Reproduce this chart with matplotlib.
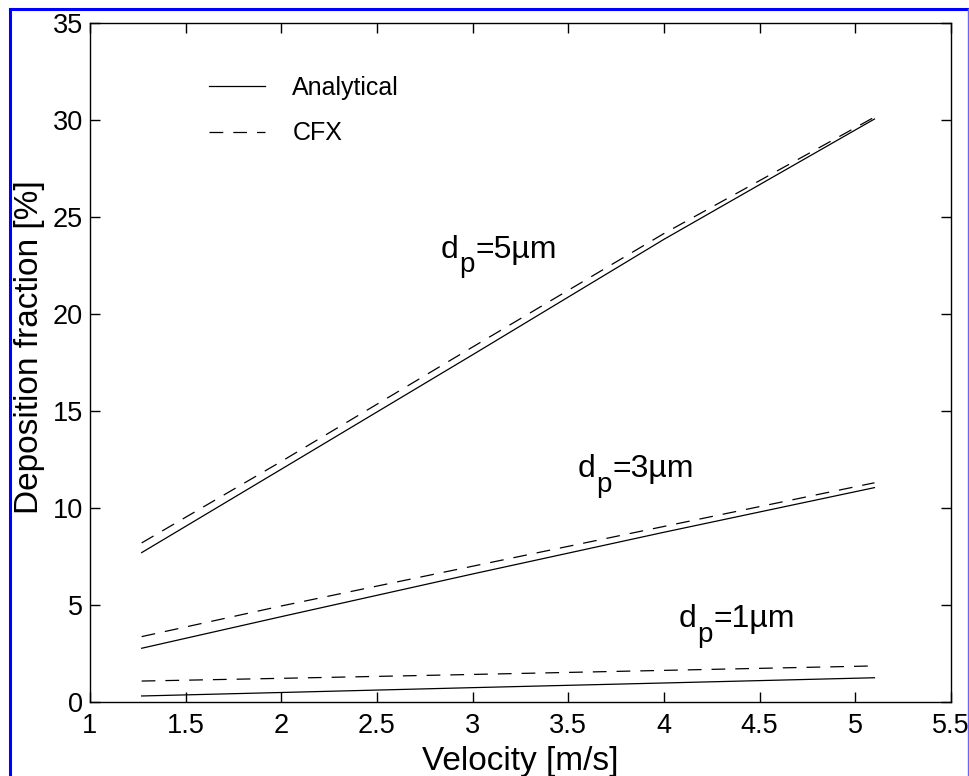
import numpy as np
import matplotlib
matplotlib.use('Agg')
import matplotlib.pyplot as plt
from matplotlib.lines import Line2D

plt.rcParams['font.family'] = ['Liberation Sans', 'DejaVu Sans']

# velocity [m/s]
velocity = [1.27, 2.0, 3.0, 4.0, 5.1]

# deposition fraction [%]
analytical_5um = [7.7, 12.0, 17.9, 23.85, 30.05]
cfx_5um = [8.2, 12.4, 18.3, 24.15, 30.15]
analytical_3um = [2.77, 4.4, 6.6, 8.75, 11.05]
cfx_3um = [3.37, 4.95, 7.0, 9.05, 11.3]
analytical_1um = [0.31, 0.49, 0.74, 0.98, 1.25]
cfx_1um = [1.08, 1.22, 1.42, 1.63, 1.86]

sizes = ['5', '3', '1']
label_pos = [(2.835, 22.9), (3.551, 11.6), (4.079, 3.87)]

fig = plt.figure(figsize=(9.69, 7.76), dpi=100)
ax = fig.add_axes([90 / 969, 1 - 702 / 776, 861 / 969, 679 / 776])

dash = (0, (11, 8))
lw = 0.9
for ana, cfx in [(analytical_5um, cfx_5um), (analytical_3um, cfx_3um), (analytical_1um, cfx_1um)]:
    ax.plot(velocity, ana, color='black', lw=lw)
    ax.plot(velocity, cfx, color='black', lw=lw, linestyle=dash)

# d_p labels: "d", lowered "p", then "=Nµm"
fs_main = 23
fs_sub = 20
for s, (x, y) in zip(sizes, label_pos):
    ax.annotate('d', (x, y), xytext=(0, 0), textcoords='offset points',
                fontsize=fs_main, ha='left', va='baseline')
    ax.annotate('p', (x, y), xytext=(0.556 * fs_main, -10.5), textcoords='offset points',
                fontsize=fs_sub, ha='left', va='baseline')
    ax.annotate('=' + s + '\u00b5m', (x, y), xytext=(0.556 * fs_main + 0.556 * fs_sub + 1, 0),
                textcoords='offset points', fontsize=fs_main, ha='left', va='baseline')

ax.set_xlim(1, 5.5)
ax.set_ylim(0, 35)
ax.set_xticks(np.arange(1, 5.51, 0.5))
ax.set_xticklabels(['1', '1.5', '2', '2.5', '3', '3.5', '4', '4.5', '5', '5.5'])
ax.set_yticks(np.arange(0, 36, 5))
ax.tick_params(direction='in', length=7, width=1, top=True, right=True, labelsize=19.5, pad=5)
ax.tick_params(axis='x', pad=8)
for sp in ax.spines.values():
    sp.set_linewidth(1)

ax.set_xlabel('Velocity [m/s]', fontsize=24, labelpad=5)
ax.set_ylabel('Deposition fraction [%]', fontsize=24)
ax.yaxis.set_label_coords(-0.052, 0.523)

handles = [Line2D([], [], color='black', lw=lw),
           Line2D([], [], color='black', lw=lw, linestyle=dash)]
ax.legend(handles, ['Analytical', 'CFX'], loc='upper left', bbox_to_anchor=(0.138, 0.922),
          frameon=False, fontsize=18, handlelength=2.24, handletextpad=1.1, labelspacing=0.86,
          borderpad=0, borderaxespad=0)

# blue frame around the figure
fig.add_artist(Line2D([10 / 969, 10 / 969], [0, 1 - 9 / 776], color='#0000ff', lw=2.2, transform=fig.transFigure))
fig.add_artist(Line2D([10 / 969, 967.5 / 969], [1 - 9 / 776, 1 - 9 / 776], color='#0000ff', lw=2.2, transform=fig.transFigure))
fig.add_artist(Line2D([967.5 / 969, 967.5 / 969], [0, 1 - 9 / 776], color='#6666ff', lw=1, transform=fig.transFigure))

fig.savefig('out.png', dpi=100)
